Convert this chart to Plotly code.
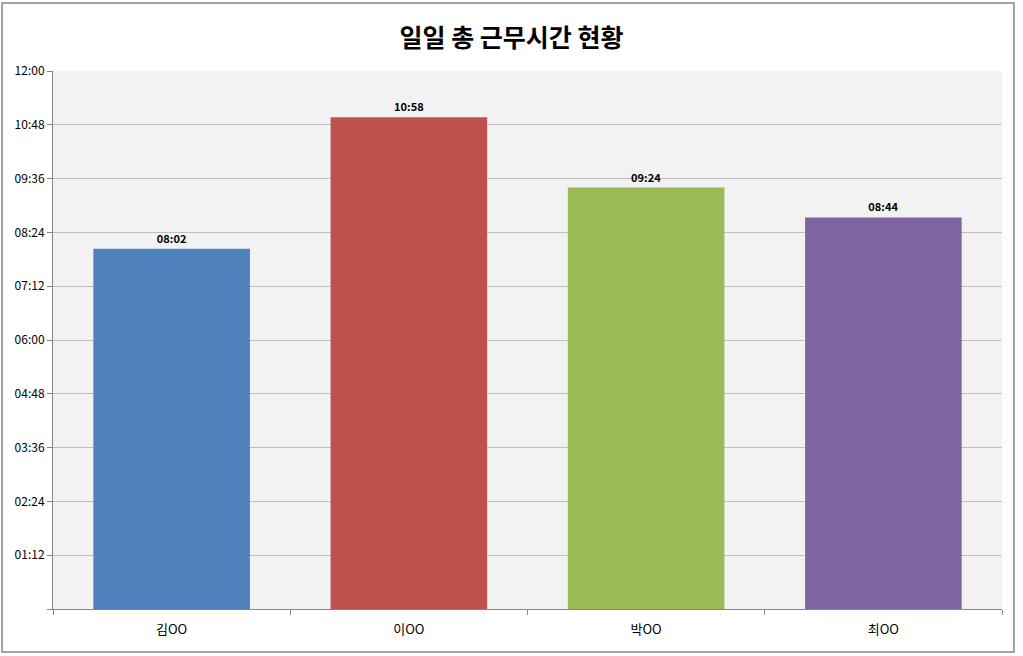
import plotly.graph_objs as go

names = ["김OO", "이OO", "박OO", "최OO"]
work_times = ["08:02", "10:58", "09:24", "08:44"]
bar_colors = ["#4F81BD", "#C0504D", "#9BBB59", "#8064A2"]

tick_minutes = [0, 72, 144, 216, 288, 360, 432, 504, 576, 648, 720]
tick_labels = ["", "01:12", "02:24", "03:36", "04:48", "06:00", "07:12", "08:24", "09:36", "10:48", "12:00"]


def to_minutes(hhmm):
    h, m = hhmm.split(":")
    return int(h) * 60 + int(m)


minutes = [to_minutes(t) for t in work_times]

font_family = "Noto Sans CJK KR, Noto Sans, sans-serif"

fig = go.Figure(
    data=[
        go.Bar(
            x=names,
            y=minutes,
            marker={"color": bar_colors, "line": {"width": 0}},
            text=work_times,
            textposition="outside",
            textfont={"size": 11, "color": "black", "family": "Noto Sans CJK KR"},
            texttemplate="<b>%{text}</b>",
            cliponaxis=False,
        )
    ],
    layout=go.Layout(
        width=1023,
        height=656,
        title={
            "text": "<b>일일 총 근무시간 현황</b>",
            "x": 0.5,
            "xanchor": "center",
            "y": 0.942,
            "yanchor": "middle",
            "font": {"size": 25, "color": "black", "family": font_family},
        },
        font={"family": font_family, "color": "black"},
        paper_bgcolor="white",
        plot_bgcolor="#F2F2F2",
        margin={"l": 53, "r": 21, "t": 71, "b": 47},
        bargap=0.34,
        showlegend=False,
        xaxis={
            "showline": True,
            "linecolor": "#868686",
            "ticks": "outside",
            "tickson": "boundaries",
            "ticklen": 5,
            "tickcolor": "#868686",
            "tickfont": {"size": 13},
            "ticklabelstandoff": 8,
            "showgrid": False,
        },
        yaxis={
            "range": [0, 720],
            "tickvals": tick_minutes,
            "ticktext": tick_labels,
            "showline": True,
            "linecolor": "#868686",
            "ticks": "outside",
            "ticklen": 5,
            "tickcolor": "#868686",
            "tickfont": {"size": 12},
            "showgrid": True,
            "gridcolor": "#BFBFBF",
            "zeroline": False,
        },
        shapes=[
            {
                "type": "rect",
                "xref": "paper",
                "yref": "paper",
                "x0": -0.0537,
                "x1": 1.0126,
                "y0": -0.0799,
                "y1": 1.1264,
                "line": {"color": "#868686", "width": 1.5},
                "layer": "below",
            }
        ],
    ),
)

# page body has a default 8px margin, drop it so the chart sits at 0,0
fig.write_html(
    "out.html",
    config={"displayModeBar": False},
    post_script="document.body.style.margin='0';",
)
